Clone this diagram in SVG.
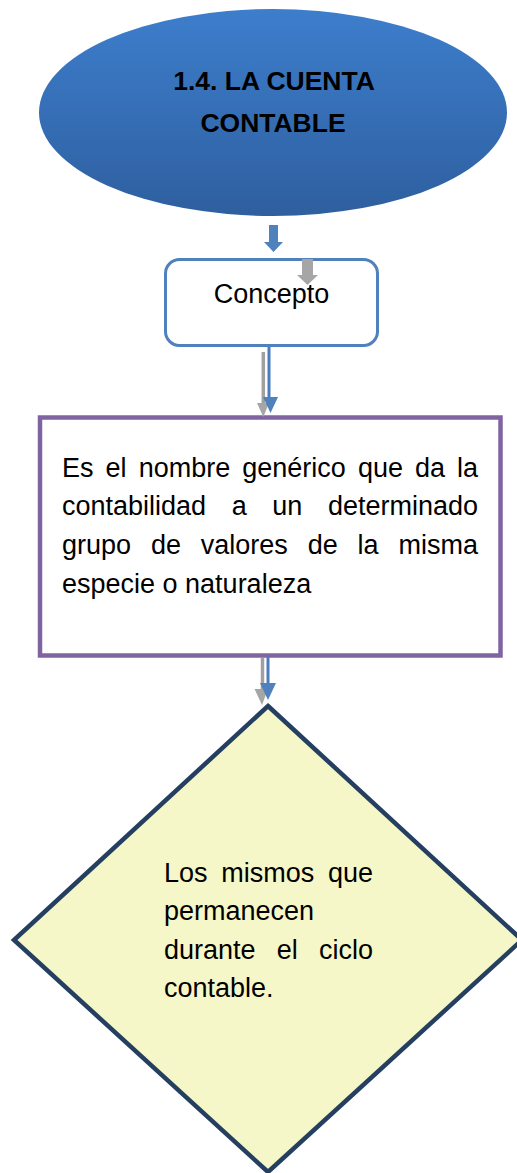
<svg xmlns="http://www.w3.org/2000/svg" width="517" height="1173" viewBox="0 0 517 1173">
<defs>
<linearGradient id="ellGrad" x1="0" y1="0" x2="0" y2="1">
<stop offset="0" stop-color="#3D7ECC"/>
<stop offset="1" stop-color="#2E5F9F"/>
</linearGradient>
</defs>
<style>
.t{font-family:"Liberation Sans",Arial,sans-serif;font-size:27px;fill:#000}
.tb{font-family:"Liberation Sans",Arial,sans-serif;font-size:26.5px;font-weight:bold;fill:#000}
.blue{fill:#4F81BD}
.gray{fill:#A6A6A6}
.bline{stroke:#4A7CC0;stroke-width:3;fill:none}
.gline{stroke:#A0A0A0;stroke-width:3.5;fill:none}
</style>
<rect width="517" height="1173" fill="#fff"/>

<g id="title">
<ellipse cx="273" cy="112.5" rx="234" ry="103.5" fill="url(#ellGrad)"/>
<text class="tb" x="274" y="90" text-anchor="middle">1.4. LA CUENTA</text>
<text class="tb" x="273" y="132" text-anchor="middle">CONTABLE</text>
</g>

<g id="concepto">
<rect x="165.5" y="259.5" width="212" height="86" rx="14" fill="#fff" stroke="#4F81BD" stroke-width="3"/>
<text class="t" x="271.5" y="303" text-anchor="middle">Concepto</text>
</g>

<g id="definicion">
<rect x="40" y="417.5" width="460.5" height="238" fill="#fff" stroke="#8064A2" stroke-width="4.5"/>
<text class="t" y="477"><tspan x="62">Es</tspan><tspan x="105.6">el</tspan><tspan x="138.7">nombre</tspan><tspan x="242.3">genérico</tspan><tspan x="357.9">que</tspan><tspan x="415">da</tspan><tspan x="457.1">la</tspan></text>
<text class="t" y="515"><tspan x="62">contabilidad</tspan><tspan x="231.7">a</tspan><tspan x="272.3">un</tspan><tspan x="327.9">determinado</tspan></text>
<text class="t" y="554"><tspan x="62">grupo</tspan><tspan x="150.9">de</tspan><tspan x="200.8">valores</tspan><tspan x="307.7">de</tspan><tspan x="357.6">la</tspan><tspan x="398.5">misma</tspan></text>
<text class="t" x="62" y="593">especie o naturaleza</text>
</g>

<g id="caracteristica">
<polygon points="268,706 522,940 268,1172 14,940" fill="#F5F7C8" stroke="#243F60" stroke-width="4.5" stroke-linejoin="miter"/>
<text class="t" y="882"><tspan x="164">Los</tspan><tspan x="221.3">mismos</tspan><tspan x="328">que</tspan></text>
<text class="t" x="164" y="920">permanecen</text>
<text class="t" y="959"><tspan x="164">durante</tspan><tspan x="276.8">el</tspan><tspan x="319">ciclo</tspan></text>
<text class="t" x="164" y="997">contable.</text>
</g>

<g id="connectors">
<polygon class="blue" points="269,225 278,225 278,242 283,242 273.5,252 264,242 269,242"/>
<polygon class="gray" points="302,259 313,259 313,275 318,275 307.5,285 297,275 302,275"/>
<line class="gline" x1="263.3" y1="352" x2="263.3" y2="404"/>
<polygon class="gray" points="257,403 269,403 263.3,417"/>
<line class="bline" x1="269" y1="347" x2="269" y2="398"/>
<polygon class="blue" points="263,397 278,397 270.5,413"/>
<line class="gline" x1="262.5" y1="658" x2="262.5" y2="690"/>
<polygon class="gray" points="254.5,689 268,689 262,705"/>
<line class="bline" x1="268" y1="657" x2="268" y2="684"/>
<polygon class="blue" points="260,683 276,683 268,700"/>
</g>
</svg>
